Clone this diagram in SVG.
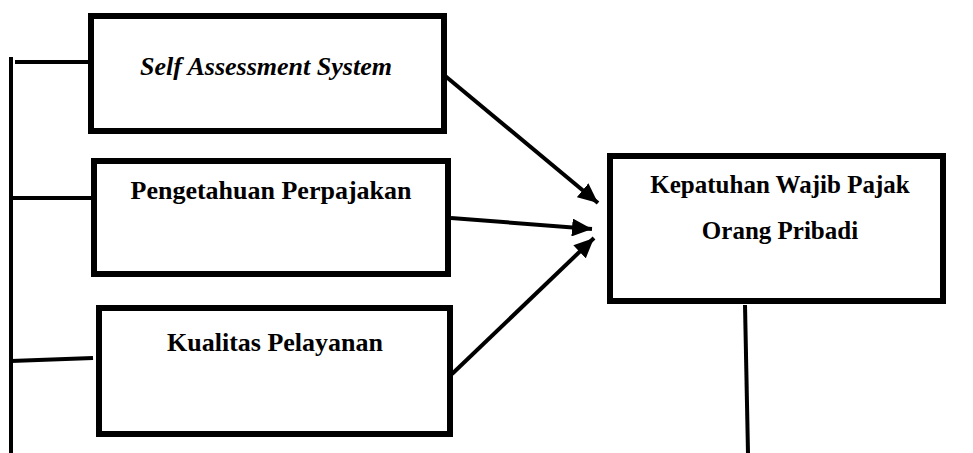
<svg xmlns="http://www.w3.org/2000/svg" width="973" height="453" viewBox="0 0 973 453">
<style>
.box{fill:#fff;stroke:#000;stroke-width:6}
.t{font-family:"Liberation Serif","Times New Roman",serif;font-weight:bold;font-size:26px;fill:#000;text-anchor:middle}
.ln{stroke:#000;stroke-width:4;fill:none}
.ar{stroke:#000;stroke-width:4;fill:none;marker-end:url(#ah)}
</style>
<defs>
<marker id="ah" markerUnits="userSpaceOnUse" markerWidth="20" markerHeight="18" viewBox="0 0 20 18" refX="20" refY="9" orient="auto">
<path d="M0,0 L20,9 L0,18 Z" fill="#000"/>
</marker>
</defs>
<g id="connectors">
<line class="ln" x1="11" y1="57" x2="11" y2="453"/>
<line class="ln" x1="15" y1="62" x2="89" y2="62"/>
<line class="ln" x1="11" y1="198" x2="92" y2="198"/>
<line class="ln" x1="11" y1="361" x2="93" y2="358"/>
<line class="ln" x1="745" y1="305" x2="748" y2="453"/>
<line class="ar" x1="438" y1="70" x2="598" y2="203"/>
<line class="ar" x1="451" y1="218" x2="592" y2="229"/>
<line class="ar" x1="452" y1="374" x2="594" y2="238"/>
</g>
<g id="node-sas">
<rect class="box" x="91" y="16" width="353" height="115"/>
<text class="t" x="266" y="75" font-style="italic">Self Assessment System</text>
</g>
<g id="node-pengetahuan">
<rect class="box" x="94" y="161" width="354" height="113"/>
<text class="t" x="271" y="199">Pengetahuan Perpajakan</text>
</g>
<g id="node-kualitas">
<rect class="box" x="99" y="308" width="351" height="126"/>
<text class="t" x="275" y="351">Kualitas Pelayanan</text>
</g>
<g id="node-kepatuhan">
<rect class="box" x="610" y="156" width="333" height="145"/>
<text class="t" x="780" y="193" style="font-size:25px">Kepatuhan Wajib Pajak</text>
<text class="t" x="780" y="239" style="font-size:25px">Orang Pribadi</text>
</g>
</svg>
